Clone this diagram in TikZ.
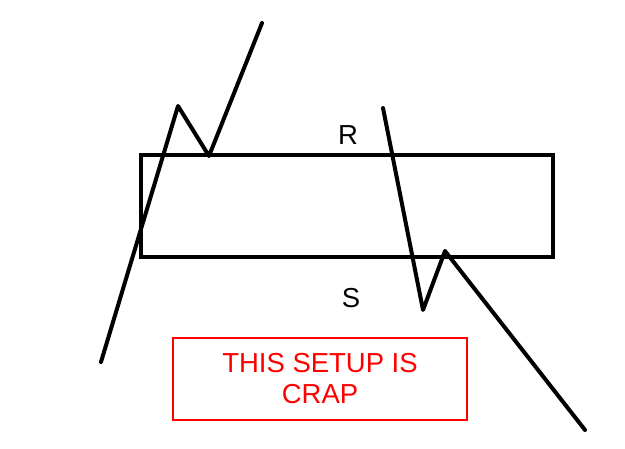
\documentclass[tikz,border=0pt]{standalone}
\usepackage{fontspec}
\setmainfont{Liberation Sans}
\usetikzlibrary{positioning}

\begin{document}
\begin{tikzpicture}[x=0.75pt, y=-0.75pt,
    wire/.style={line width=3pt, line cap=round, line join=round},
    label/.style={font=\fontsize{20.6}{23.3}\selectfont, anchor=base, inner sep=0pt}]
      \useasboundingbox (0,0) rectangle (625,449);
      \node[draw, line width=3pt, minimum width=309pt, minimum height=76.5pt,
        inner sep=0pt] (block) at (347, 206) {};
      \node[label] (rlabel) at (348, 145) {R};
      \node[label] (slabel) at (351, 307) {S};
      \node[draw=red, text=red, line width=1.3pt, align=center,
        minimum width=220.5pt, minimum height=61.5pt,
        font=\fontsize{20.6}{23.3}\selectfont] (note) at (320, 379)
        {THIS SETUP IS\\CRAP};
      \coordinate (a1) at (101, 362);
      \coordinate (a2) at (178, 106);
      \coordinate (a3) at (209, 156);
      \coordinate (a4) at (262, 23);
      \coordinate (b1) at (383, 108);
      \coordinate (b2) at (423, 310);
      \coordinate (b3) at (445, 251);
      \coordinate (b4) at (585, 430);
      \draw[wire] (a1) -- (a2) -- (a3) -- (a4);
      \draw[wire] (b1) -- (b2) -- (b3) -- (b4);
    \end{tikzpicture}
\end{document}
